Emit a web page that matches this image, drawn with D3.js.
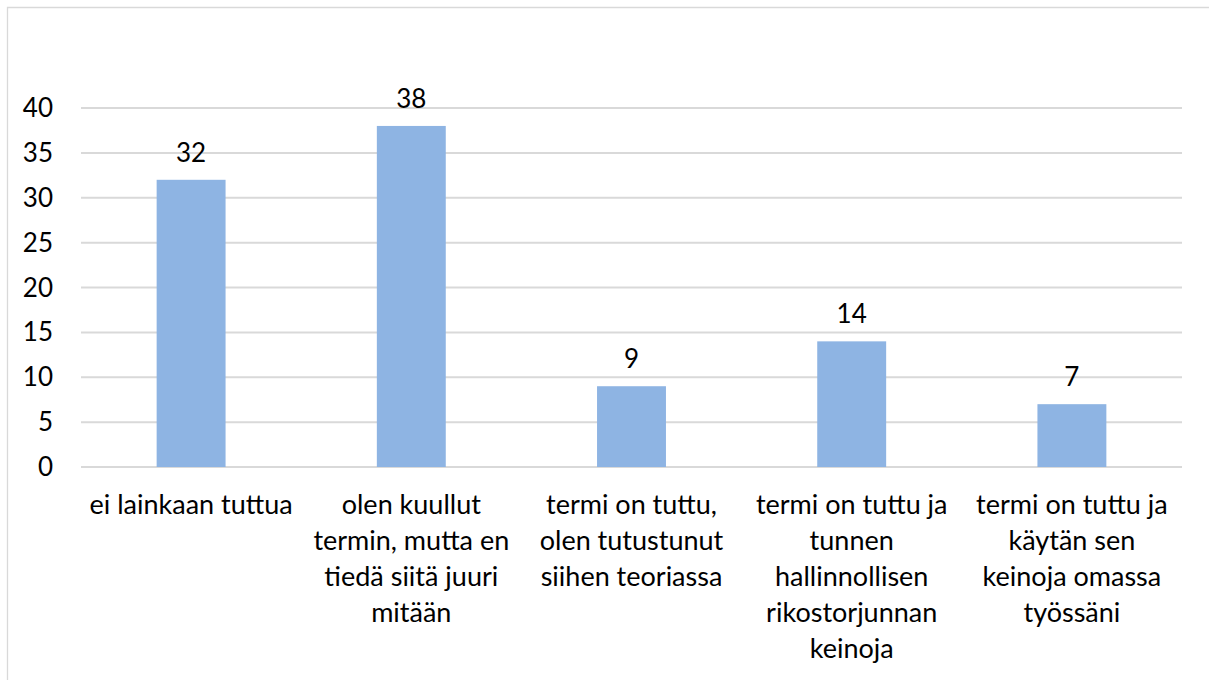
<!DOCTYPE html>
<html>
<head>
<meta charset="utf-8">
<script src="https://cdn.jsdelivr.net/npm/d3@7"></script>
<style>
  html, body { margin: 0; padding: 0; background: #fff; }
  svg { display: block; font-family: Lato, "Noto Sans", sans-serif; }
</style>
</head>
<body>
<svg id="chart"></svg>
<script>
// data
var categories = [
    ["ei lainkaan tuttua"],
    ["olen kuullut", "termin, mutta en", "tiedä siitä juuri", "mitään"],
    ["termi on tuttu,", "olen tutustunut", "siihen teoriassa"],
    ["termi on tuttu ja", "tunnen", "hallinnollisen", "rikostorjunnan", "keinoja"],
    ["termi on tuttu ja", "käytän sen", "keinoja omassa", "työssäni"]
];
var values = [32, 38, 9, 14, 7];
var yTicks = [0, 5, 10, 15, 20, 25, 30, 35, 40];

var WIDTH = 1209, HEIGHT = 680;
var margin = {left: 81, right: 27, top: 108, bottom: 213};

var svg = d3.select("#chart")
    .attr("width", WIDTH)
    .attr("height", HEIGHT);

// chart frame (only left and top edges are inside the picture)
svg.append("path")
    .attr("d", "M7.5," + HEIGHT + "V7.5H" + WIDTH)
    .attr("fill", "none")
    .attr("stroke", "#d9d9d9")
    .attr("stroke-width", 1.3);

var x = d3.scaleBand()
    .domain(d3.range(values.length))
    .range([margin.left, WIDTH - margin.right])
    .paddingInner(0.687)
    .paddingOuter(0.3435);

var y = d3.scaleLinear()
    .domain([0, 40])
    .range([HEIGHT - margin.bottom, margin.top]);

// gridlines
svg.append("g")
    .selectAll("line")
    .data(yTicks)
    .enter()
    .append("line")
    .attr("x1", margin.left)
    .attr("x2", WIDTH - margin.right)
    .attr("y1", function(d){ return y(d); })
    .attr("y2", function(d){ return y(d); })
    .attr("stroke", "#d9d9d9")
    .attr("stroke-width", 2);

// y axis labels
svg.append("g")
    .selectAll("text")
    .data(yTicks)
    .enter()
    .append("text")
    .attr("x", 53)
    .attr("y", function(d){ return y(d); })
    .attr("dy", "0.35em")
    .attr("text-anchor", "end")
    .attr("font-size", 26)
    .attr("fill", "#000")
    .text(function(d){ return d; });

// bars
svg.append("g")
    .selectAll("rect")
    .data(values)
    .enter()
    .append("rect")
    .attr("x", function(d, i){ return x(i); })
    .attr("width", x.bandwidth())
    .attr("y", function(d){ return y(d); })
    .attr("height", function(d){ return y(0) - y(d); })
    .attr("fill", "#8eb4e3");

// value labels
svg.append("g")
    .selectAll("text")
    .data(values)
    .enter()
    .append("text")
    .attr("x", function(d, i){ return x(i) + x.bandwidth() / 2; })
    .attr("y", function(d){ return y(d) - 18; })
    .attr("text-anchor", "middle")
    .attr("font-size", 26)
    .attr("fill", "#000")
    .text(function(d){ return d; });

// category labels
var cat = svg.append("g")
    .selectAll("text")
    .data(categories)
    .enter()
    .append("text")
    .attr("text-anchor", "middle")
    .attr("font-size", 27)
    .attr("fill", "#000")
    .attr("transform", function(d, i){
        return "translate(" + (x(i) + x.bandwidth() / 2) + ",514)";
    });
cat.selectAll("tspan")
    .data(function(d){ return d; })
    .enter()
    .append("tspan")
    .attr("x", 0)
    .attr("y", function(d, j){ return j * 36; })
    .text(function(d){ return d; });
</script>
</body>
</html>
